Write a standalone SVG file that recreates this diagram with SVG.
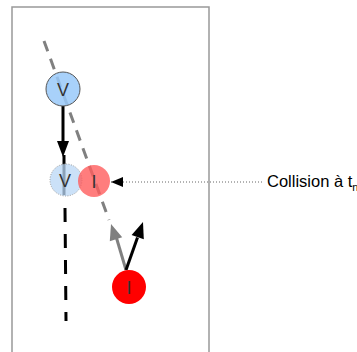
<svg xmlns="http://www.w3.org/2000/svg" width="357" height="352" viewBox="0 0 357 352">
<defs>
<style>
.lbl{font-family:"Liberation Sans",Arial,sans-serif;font-size:18px;fill:#333;text-anchor:middle}
.txt{font-family:"Liberation Sans",Arial,sans-serif;font-size:16.5px;fill:#000}
</style>
<marker id="ahs" viewBox="0 0 12 10" refX="12" refY="5" markerWidth="12" markerHeight="10" orient="auto" markerUnits="userSpaceOnUse"><path d="M0,0L12,5L0,10z" fill="#000"/></marker>
</defs>
<rect x="12" y="7" width="197" height="360" fill="none" stroke="#999" stroke-width="1.5"/>
<g id="connectors">
<line x1="44" y1="41" x2="109" y2="220" stroke="#808080" stroke-width="3" stroke-dasharray="11,8"/>
<line x1="64" y1="155" x2="64" y2="195" stroke="#000" stroke-width="3"/>
<line x1="65" y1="208" x2="66" y2="321" stroke="#000" stroke-width="3" stroke-dasharray="14,12"/>
<line x1="63" y1="106" x2="63" y2="143" stroke="#000" stroke-width="3"/>
<polygon points="57,141 69,141 63,157" fill="#000"/>
<line x1="126" y1="270" x2="116.5" y2="238" stroke="#808080" stroke-width="3"/>
<polygon points="122.2,237.2 109.8,241.2 111,224" fill="#808080"/>
<line x1="126" y1="270" x2="137.5" y2="237.5" stroke="#000" stroke-width="3"/>
<polygon points="143.8,239.3 131.6,234.9 143,222" fill="#000"/>
<line x1="262" y1="182" x2="111" y2="182" stroke="#666" stroke-width="1" stroke-dasharray="1,2" marker-end="url(#ahs)"/>
</g>
<g id="v">
<circle cx="63" cy="89" r="17" fill="#99c9f9" fill-opacity="0.85" stroke="#555" stroke-width="1"/>
<text class="lbl" x="63" y="96">V</text>
</g>
<g id="v-ghost">
<circle cx="66" cy="180" r="16" fill="#b9d7f5" fill-opacity="0.75" stroke="#999" stroke-width="1" stroke-dasharray="1,1.5"/>
<text class="lbl" x="65" y="187">V</text>
</g>
<g id="i-ghost">
<circle cx="94" cy="181" r="16" fill="#ff5c5c" fill-opacity="0.8"/>
<text class="lbl" x="94" y="188">I</text>
</g>
<g id="i">
<circle cx="129" cy="287" r="17" fill="#ff0000"/>
<text class="lbl" x="129" y="294">I</text>
</g>
<g id="label">
<text class="txt" x="267" y="187">Collision à t<tspan font-size="11" dy="4">n</tspan></text>
</g>
</svg>
